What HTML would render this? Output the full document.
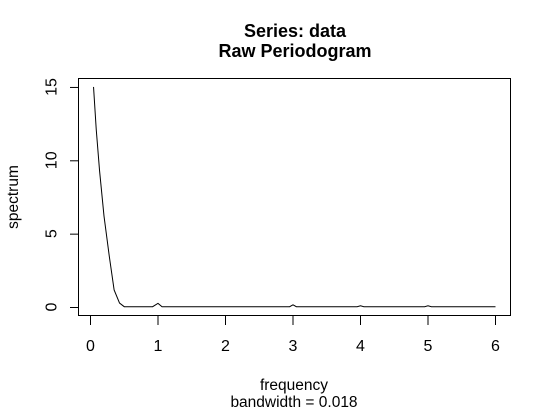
<!DOCTYPE html>
<html><head><meta charset="utf-8"><style>
body{margin:0;background:#fff}
svg{display:block;font-family:"Liberation Sans",Arial,sans-serif}
</style></head><body>
<svg id="chart" width="552" height="414" viewBox="0 0 552 414">
<rect width="552" height="414" fill="#fff"/>
<text x="295" y="37" text-anchor="middle" font-size="18" font-weight="bold">Series: data</text>
<text x="295" y="57" text-anchor="middle" font-size="18" font-weight="bold">Raw Periodogram</text>
<text x="294" y="390" text-anchor="middle" font-size="15.5">frequency</text>
<text x="294" y="407" text-anchor="middle" font-size="15.5">bandwidth = 0.018</text>
<text transform="translate(18,197) rotate(-90)" text-anchor="middle" font-size="15.5">spectrum</text>
<rect x="78.5" y="78.5" width="432" height="237" fill="none" stroke="#000"/>
<g id="axes"></g>
<polyline id="line" fill="none" stroke="#000" stroke-width="1"/>
</svg>
<script>
const freq = [0.045,0.085,0.134,0.2,0.28,0.35,0.43,0.5,0.92,1.0,1.06,2.95,3.0,3.05,3.95,4.0,4.05,4.95,5.0,5.05,6.0];
const spec = [15,12.1,9.3,6.2,3.4,1.16,0.27,0.02,0.02,0.25,0.02,0.02,0.15,0.02,0.02,0.08,0.02,0.02,0.08,0.02,0.02];
const xTicks = [0,1,2,3,4,5,6];
const yTicks = [0,5,10,15];
const xs = f => 90.5 + f*67.5;
const ys = v => 307 - v*14.67;
const NS='http://www.w3.org/2000/svg';
const g=document.getElementById('axes');
function mk(t,a){const e=document.createElementNS(NS,t);for(const k in a)e.setAttribute(k,a[k]);g.appendChild(e);return e;}
mk('line',{x1:xs(0),x2:xs(6),y1:315.5,y2:315.5,stroke:'#000'});
xTicks.forEach(t=>{
 const l=mk('line',{x1:xs(t),x2:xs(t),y1:316,y2:325,stroke:'#000'});
 
 
 const tx=mk('text',{x:xs(t),y:351,'text-anchor':'middle','font-size':16});
 tx.textContent=t;
 
 
});
yTicks.forEach(t=>{
 const l=mk('line',{x1:70,x2:78,y1:ys(t)+0.5,y2:ys(t)+0.5,stroke:'#000'});
 
 
 const tx=mk('text',{transform:`translate(56.5,${ys(t)}) rotate(-90)`,'text-anchor':'middle','font-size':16});
 tx.textContent=t;
 
 
});
document.getElementById('line').setAttribute('points',freq.map((f,i)=>xs(f)+','+ys(spec[i])).join(' '));
</script>
</body></html>
